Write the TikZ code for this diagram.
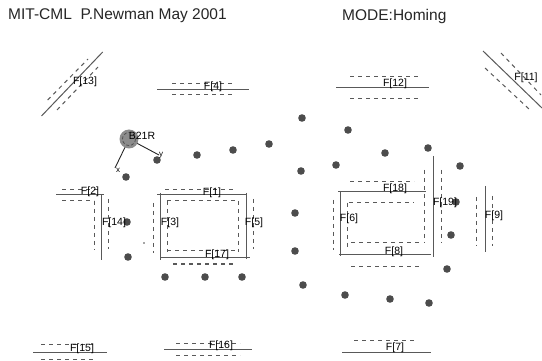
\documentclass[tikz,border=0pt]{standalone}
\usepackage{fontspec}
\setmainfont{Liberation Sans}
\begin{document}
\begin{tikzpicture}[x=1pt,y=-1pt,
  wall/.style={draw=black!65,line width=1pt},
  band/.style={draw=black!65,line width=1pt,dash pattern=on 4pt off 4pt},
  lbl/.style={font=\fontsize{10.5}{11}\selectfont,text=black,inner sep=0pt},
  tiny/.style={font=\fontsize{8}{9}\selectfont,text=black,inner sep=0pt},
  head/.style={font=\fontsize{15.5}{16}\selectfont,text=black!85,inner sep=0pt,anchor=west}]
\useasboundingbox (0,0) rectangle (542,361);
\fill[white] (0,0) rectangle (542,361);
\node[head] (t1) at (8,16) {MIT-CML\ \ P.Newman May 2001};
\node[head] (t2) at (342,16) {MODE:Homing};
% landmarks
\foreach \x/\y in {157/160,126/177,197/155,233/150,269/144,302/118,348/130,385/153,428/148,460/166,336/165,301/171,127/222,128/257,165/277,205/277,242/277,456/202,451/235,447/269,429/303,390/299,345/295,303/285,295/251,295/213}
  \fill[black!70] (\x,\y) circle (3.8);
% vehicle
\coordinate (veh) at (129,139);
\coordinate (vx) at (115,168);
\coordinate (vy) at (159,155);
\draw[black!85,line width=0.9pt] (veh) -- (vx);
\draw[black!85,line width=0.9pt] (veh) -- (vy);
\fill[black!45] (veh) circle (9.5);
\draw[black!70,densely dashed,line width=0.7pt] (veh) circle (6.5);
\fill[black!70] (144,243) circle (0.8);
% walls
\draw[wall] (41.5,116) -- (102.7,52);
\draw[band] (47.7,100) -- (88,59);
\draw[band] (57,110) -- (98,67);
\draw[wall] (157,90) -- (249,90);
\draw[band] (172,84) -- (234,84);
\draw[band] (172,95) -- (234,95);
\draw[wall] (336,88) -- (429,88);
\draw[band] (350,77) -- (419,77);
\draw[band] (350,99) -- (419,99);
\draw[wall] (483,51) -- (542,108);
\draw[band] (501,53) -- (541,95);
\draw[band] (485,68) -- (529,109);
\draw[wall] (56,195) -- (104,195);
\draw[band] (62,190) -- (100,190);
\draw[band] (62,201) -- (94,201);
\draw[wall] (101,195) -- (101,260);
\draw[band] (94,201) -- (94,250);
\draw[band] (108,199) -- (108,249);
\draw[wall] (157,195) -- (247,195);
\draw[band] (165,190) -- (234,190);
\draw[band] (167,201) -- (238,201);
\draw[wall] (160,193) -- (160,260);
\draw[band] (153,203) -- (153,253);
\draw[band] (167,201) -- (167,252);
\draw[wall] (246,193) -- (246,259);
\draw[band] (238,201) -- (238,252);
\draw[band] (253,199) -- (253,249);
\draw[wall] (160,258) -- (250,258);
\draw[band] (167,251) -- (237,251);
\draw[band] (173,264) -- (236,264);
\draw[wall] (33,352) -- (107,352);
\draw[band] (41,344) -- (95,344);
\draw[band] (41,359) -- (93,359);
\draw[wall] (164,349) -- (252,349);
\draw[band] (176,343) -- (240,343);
\draw[band] (176,355) -- (240,355);
\draw[wall] (338,192) -- (426,192);
\draw[band] (350,182) -- (414,182);
\draw[band] (349,203) -- (414,203);
\draw[wall] (340,192) -- (340,256);
\draw[band] (333,200) -- (333,250);
\draw[band] (347,203) -- (347,250);
\draw[wall] (339,255) -- (431,255);
\draw[band] (351,243) -- (419,243);
\draw[band] (351,266) -- (419,266);
\draw[wall] (433,156) -- (433,257);
\draw[band] (424,170) -- (424,243);
\draw[band] (441,170) -- (441,243);
\draw[wall] (485,186) -- (485,252);
\draw[band] (476,197) -- (476,246);
\draw[band] (492,196) -- (492,246);
\draw[wall] (342,352) -- (431,352);
\draw[band] (354,340) -- (417,340);
% labels
\node[lbl] (f13) at (85,82) {F[13]};
\node[lbl] (f4) at (213,87) {F[4]};
\node[lbl] (f12) at (395,84) {F[12]};
\node[lbl] (f11) at (526,78) {F[11]};
\node[lbl] (b21r) at (142,136) {B21R};
\node[tiny] (lx) at (118,170) {x};
\node[tiny] (ly) at (161,155) {y};
\node[lbl] (f2) at (90,192) {F[2]};
\node[lbl] (f14) at (114,223) {F[14]};
\node[lbl] (f1) at (212,193) {F[1]};
\node[lbl] (f3) at (170,223) {F[3]};
\node[lbl] (f5) at (254,223) {F[5]};
\node[lbl] (f17) at (217,255) {F[17]};
\node[lbl] (f15) at (82,349) {F[15]};
\node[lbl] (f16) at (221,346) {F[16]};
\node[lbl] (f18) at (395,189) {F[18]};
\node[lbl] (f6) at (349,219) {F[6]};
\node[lbl] (f8) at (394,252) {F[8]};
\node[lbl] (f19) at (445,203) {F[19]};
\node[lbl] (f9) at (494,216) {F[9]};
\node[lbl] (f7) at (395,348) {F[7]};
\end{tikzpicture}
\end{document}
